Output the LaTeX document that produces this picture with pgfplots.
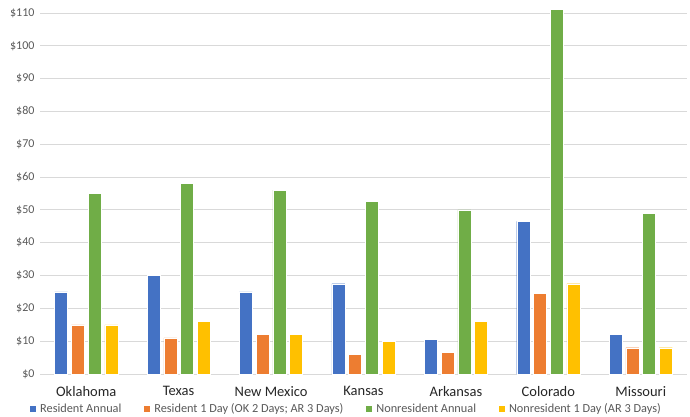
\documentclass[border=0pt]{standalone}
\usepackage{pgfplots}
\pgfplotsset{compat=1.18}
\usepackage{fontspec}
\setmainfont{Carlito}
\definecolor{cBlue}{HTML}{4472C4}
\definecolor{cOrange}{HTML}{ED7D31}
\definecolor{cGreen}{HTML}{70AD47}
\definecolor{cYellow}{HTML}{FFC000}
\definecolor{cGrid}{HTML}{D9D9D9}
\definecolor{cTick}{HTML}{595959}
\begin{document}
\begin{tikzpicture}
\useasboundingbox (0pt,0pt) rectangle (690pt,416pt);
\begin{axis}[
  at={(40pt,42pt)}, anchor=south west,
  scale only axis,
  width=647pt, height=367.6pt,
  xmin=-0.5, xmax=6.5, ymin=0, ymax=112,
  axis line style={draw=none},
  ymajorgrids, grid style={cGrid, line width=0.8pt},
  major tick length=0pt,
  xtick={0,1,2,3,4,5,6},
  xticklabels={Oklahoma,Texas,New Mexico,Kansas,Arkansas,Colorado,Missouri},
  ytick={0,10,...,110},
  yticklabels={\$0,\$10,\$20,\$30,\$40,\$50,\$60,\$70,\$80,\$90,\$100,\$110},
  yticklabel style={font=\fontsize{12}{14}\selectfont, text=cTick, xshift=-2pt},
  xticklabel style={font=\fontsize{14.5}{16}\selectfont, text=black!85, yshift=-9pt},
  clip=false,
  bar width=0.141,
  legend columns=-1,
  legend style={draw=none, fill=none, at={(0.473,-0.095)}, anchor=center,
    font=\fontsize{12.3}{14}\selectfont, text=cTick,
    /tikz/every even column/.append style={column sep=20pt},
    /tikz/every odd column/.append style={column sep=1.5pt}},
  legend image code/.code={\fill[#1] (0pt,-3.5pt) rectangle (7pt,3.5pt);},
]
\addplot[ybar, bar shift=-0.2715, fill=cBlue, draw=white, line width=0.4pt] coordinates {(0,25) (1,30) (2,25) (3,27.5) (4,10.5) (5,46.5) (6,12)};
\addplot[ybar, bar shift=-0.0905, fill=cOrange, draw=white, line width=0.4pt] coordinates {(0,15) (1,11) (2,12) (3,6) (4,6.5) (5,24.5) (6,8)};
\addplot[ybar, bar shift=0.0905, fill=cGreen, draw=white, line width=0.4pt] coordinates {(0,55) (1,58) (2,56) (3,52.5) (4,50) (5,111) (6,49)};
\addplot[ybar, bar shift=0.2715, fill=cYellow, draw=white, line width=0.4pt] coordinates {(0,15) (1,16) (2,12) (3,10) (4,16) (5,27.5) (6,8)};
\legend{Resident Annual, Resident 1 Day (OK 2 Days; AR 3 Days), Nonresident Annual, Nonresident 1 Day (AR 3 Days)}
\end{axis}
\end{tikzpicture}
\end{document}
